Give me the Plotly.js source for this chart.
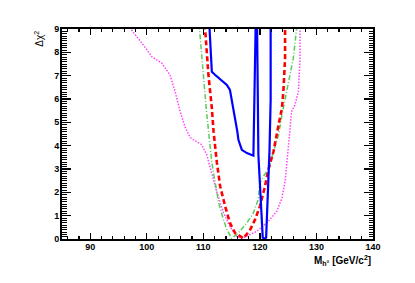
<!DOCTYPE html>
<html>
<head>
<meta charset="utf-8">
<script src="https://cdn.plot.ly/plotly-3.0.1.min.js"></script>
<style>html,body{margin:0;padding:0;background:#fff;}#chart{width:415px;height:283px;}</style>
</head>
<body>
<div id="chart"></div>
<script>
// Magenta dotted curve
const magentaX = [96.9, 97.07, 99.4, 100.9, 102.67, 104.1, 105.0, 105.9, 106.8, 107.7, 108.25, 109.7, 110.6, 111.5, 112.4, 113.55, 114.7, 115.9, 116.8, 119.45, 121.5, 123.0, 123.9, 124.5, 124.75, 125.0, 125.3, 125.6, 126.2, 126.8, 127.1, 127.1];
const magentaY = [9.2, 9.03, 8.31, 7.81, 7.53, 7.03, 6.32, 5.46, 4.77, 4.34, 4.25, 4.04, 3.61, 2.84, 1.99, 1.13, 0.53, 0.11, 0.02, 0.33, 0.76, 1.19, 1.76, 2.54, 3.26, 3.91, 4.89, 5.46, 5.75, 6.32, 7.74, 9.2];
// Red dashed curve
const redX = [110.25, 110.3, 110.9, 111.5, 111.8, 112.4, 112.97, 113.85, 114.7, 115.6, 117.1, 118.3, 119.15, 120.0, 120.9, 121.5, 122.4, 123.3, 123.9, 124.15, 124.45, 124.45];
const redY = [9.2, 9.03, 7.03, 5.61, 4.61, 3.26, 2.26, 1.40, 0.69, 0.26, 0.03, 0.41, 0.84, 1.40, 2.26, 2.97, 3.75, 4.89, 5.61, 6.32, 7.74, 9.2];
// Green dash-dot curve
const greenX = [109.25, 109.3, 110.0, 110.5, 110.9, 111.2, 111.5, 112.1, 112.7, 113.55, 114.15, 115.0, 116.2, 117.7, 118.85, 119.7, 120.0, 120.6, 121.5, 122.4, 123.3, 123.9, 124.45, 125.0, 125.9, 126.5, 126.6];
const greenY = [9.2, 9.03, 7.03, 5.61, 4.68, 3.82, 3.26, 2.40, 1.55, 0.83, 0.41, 0.03, 0.26, 0.69, 1.12, 1.69, 2.40, 2.68, 2.97, 3.75, 4.47, 5.32, 6.03, 6.74, 7.74, 9.03, 9.2];
// Blue solid curve
const blueX = [111.05, 111.08, 111.5, 112.1, 114.15, 114.7, 115.3, 116.0, 116.2, 116.8, 117.7, 118.6, 118.85, 119.25, 119.5, 119.73, 120.5, 120.85, 121.1, 121.7, 121.9, 121.9];
const blueY = [9.2, 9.03, 7.17, 7.03, 6.60, 6.39, 5.61, 4.61, 4.25, 3.82, 3.68, 3.61, 3.57, 9.2, 9.2, 3.61, 0.06, 0.0, 0.06, 3.82, 5.96, 9.2];

const xTickVals = [90, 100, 110, 120, 130, 140];
const xTickText = ['<b>90</b>', '<b>100</b>', '<b>110</b>', '<b>120</b>', '<b>130</b>', '<b>140</b>'];
const yTickVals = [0, 1, 2, 3, 4, 5, 6, 7, 8, 9];
const yTickText = ['<b>0</b>', '<b>1</b>', '<b>2</b>', '<b>3</b>', '<b>4</b>', '<b>5</b>', '<b>6</b>', '<b>7</b>', '<b>8</b>', '<b>9</b>'];

const traces = [
  {x: magentaX, y: magentaY, mode: 'lines', line: {color: '#ff44ff', width: 1.5, dash: '1.5px,1.5px'}, hoverinfo: 'skip'},
  {x: greenX, y: greenY, mode: 'lines', line: {color: '#5ccc5c', width: 1.5, dash: '5px,2px,1px,2px'}, hoverinfo: 'skip'},
  {x: redX, y: redY, mode: 'lines', line: {color: '#ff0000', width: 2.6, dash: '5px,3px'}, hoverinfo: 'skip'},
  {x: blueX, y: blueY, mode: 'lines', line: {color: '#0000ff', width: 2.2}, hoverinfo: 'skip'}
];

const tickFont = {family: 'Liberation Sans, Arial, sans-serif', size: 9, color: '#000'};

const layout = {
  width: 415, height: 283,
  margin: {l: 62, r: 42, t: 29, b: 44, pad: 0},
  paper_bgcolor: '#fff', plot_bgcolor: '#fff',
  showlegend: false,
  xaxis: {
    range: [85, 140], tickmode: 'array', tickvals: xTickVals, ticktext: xTickText,
    ticks: 'inside', ticklen: 6, tickwidth: 1.2, tickcolor: '#000',
    showline: true, linecolor: '#000', linewidth: 2, mirror: 'ticks',
    showgrid: false, zeroline: false, tickfont: tickFont, ticklabelstandoff: -2,
    minor: {dtick: 2, tick0: 84, ticks: 'inside', ticklen: 3, tickwidth: 1.2, tickcolor: '#000', showgrid: false}
  },
  yaxis: {
    range: [0, 9], tickmode: 'array', tickvals: yTickVals, ticktext: yTickText,
    ticks: 'inside', ticklen: 9, tickwidth: 1.2, tickcolor: '#000',
    showline: true, linecolor: '#000', linewidth: 2, mirror: 'ticks',
    showgrid: false, zeroline: false, tickfont: tickFont, ticklabelstandoff: -1,
    minor: {dtick: 0.1, tick0: 0, ticks: 'inside', ticklen: 4.5, tickwidth: 1, tickcolor: '#000', showgrid: false}
  },
  annotations: [
    {text: '<b>M<sub>h°</sub> [GeV/c<sup>2</sup>]</b>', xref: 'paper', yref: 'paper', x: 1.0, y: -0.1,
     xanchor: 'right', yanchor: 'middle', showarrow: false,
     font: {family: 'Liberation Sans, Arial, sans-serif', size: 10, color: '#000'}},
    {text: 'Δχ<sup>2</sup>', xref: 'paper', yref: 'paper', x: -0.075, y: 1.0,
     xanchor: 'center', yanchor: 'top', showarrow: false, textangle: -90,
     font: {family: 'Liberation Sans, Arial, sans-serif', size: 10, color: '#000'}}
  ]
};

Plotly.newPlot('chart', traces, layout, {staticPlot: true, displayModeBar: false});
</script>
</body>
</html>
